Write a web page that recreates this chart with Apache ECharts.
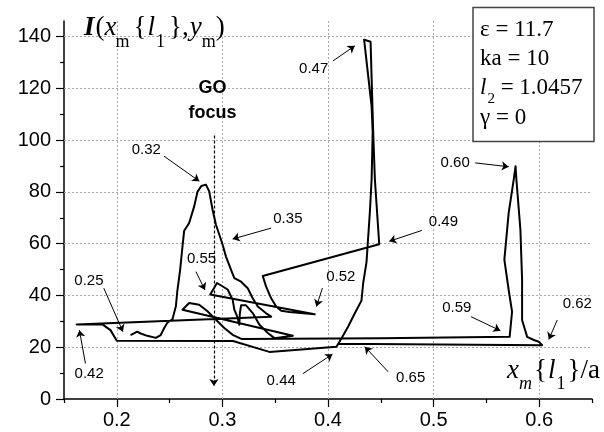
<!DOCTYPE html>
<html><head><meta charset="utf-8">
<script src="https://cdn.jsdelivr.net/npm/echarts@6/dist/echarts.min.js"></script>
<style>html,body{margin:0;padding:0;background:#fff}#c{width:604px;height:432px}</style>
</head><body><div id="c"></div>
<script>
// ---------- data ----------
const xMajorTicks = [0.2, 0.3, 0.4, 0.5, 0.6];
const xMinorTicks = [0.15, 0.25, 0.35, 0.45, 0.55, 0.65];
const yMajorTicks = [0, 20, 40, 60, 80, 100, 120, 140];
const yMinorTicks = [10, 30, 50, 70, 90, 110, 130];
const xRange = [0.15, 0.65];
const yRange = [0, 146];

// trajectory I(x_m) traced in order of the parameter (0.25 ... 0.65)
const path025to035 = [[0.213,24.7],[0.2194,26.0],[0.2226,25.3],[0.2289,24.4],[0.2369,23.6],[0.2416,24.7],[0.2448,27.3],[0.2479,29.5],[0.2527,30.8],[0.2559,35.7],[0.2574,42.0],[0.2600,50.0],[0.2622,58.9],[0.2638,65.0],[0.2685,68.0],[0.2733,74.4],[0.2764,80.0],[0.2800,82.3],[0.2844,82.8],[0.2875,80.2],[0.2907,73.1],[0.2939,67.3],[0.2987,61.5],[0.3002,59.6],[0.3034,55.0],[0.3082,49.9],[0.3113,46.7],[0.3177,45.3],[0.3240,42.8],[0.3287,38.9],[0.3335,35.7],[0.3414,33.1],[0.3462,31.8]];
const path035to042 = [[0.162,28.8]];
const path042to044 = [[0.186,28.9],[0.194,26.6],[0.200,22.5],[0.310,22.4],[0.3445,18.2],[0.408,20.2]];
const path044to049 = [[0.4127,23.4],[0.419,27.9],[0.4254,33.1],[0.4317,38.0],[0.4333,44.7],[0.4365,53.0],[0.4396,71.9],[0.4413,84.8],[0.4423,103],[0.4413,113],[0.4342,138.8],[0.4403,138.0],[0.4428,103],[0.4444,84.8],[0.4485,59.8]];
const path049to055 = [[0.3382,47.5],[0.3414,43.4],[0.3462,38.9],[0.3509,35.7],[0.3557,34.1],[0.3636,33.6],[0.3874,32.7],[0.2885,40.4],[0.2949,44.8],[0.3050,42.3],[0.3097,38.4],[0.3113,34.5],[0.3145,31.3],[0.3160,28.7],[0.3165,33.0],[0.3177,36.2],[0.3224,36.2],[0.3287,33.2],[0.3351,28.7],[0.3430,25.5],[0.3493,23.5],[0.3667,24.4],[0.2622,34.5],[0.2685,37.1],[0.2780,36.4],[0.2859,33.9],[0.2939,30.6],[0.3018,27.4],[0.3097,24.8],[0.3180,23.2]];
const path055to062 = [[0.4500,23.5],[0.5720,24.0],[0.5743,33.7],[0.5711,42.1],[0.5670,53.8],[0.5711,71.9],[0.5759,84.8],[0.5776,89.9],[0.5784,84.8],[0.5822,65.4],[0.5838,46.0],[0.5838,30.5],[0.5886,24.0],[0.5949,22.8],[0.5996,22.1],[0.6028,20.8]];
const path062to065 = [[0.4095,21.3]];

// parameter labels, their anchor points and arrows (data coordinates)
const paramLabels = ['0.25','0.32','0.35','0.42','0.44','0.47','0.49','0.52','0.55','0.59','0.60','0.62','0.65'];
const labelAt   = [[0.1736,45.7],[0.2279,96.4],[0.362,69.7],[0.1738,9.8],[0.3557,7.0],[0.3864,127.7],[0.5093,68.6],[0.4121,47.0],[0.2802,54.1],[0.522,35.3],[0.5204,91.2],[0.6361,36.7],[0.4783,8.3]];
const arrowFrom = [[0.1877,42.8],[0.2447,93.8],[0.3462,66.0],[0.1703,13.7],[0.3762,9.8],[0.4048,130.6],[0.4888,65.1],[0.3947,42.8],[0.2749,49.2],[0.5354,31.8],[0.5394,91.2],[0.6171,30.5],[0.457,10.5]];
const arrowTo   = [[0.2058,26.0],[0.2782,84.1],[0.3097,61.8],[0.1646,26.6],[0.4042,17.3],[0.4254,136.4],[0.458,60.9],[0.3890,35.7],[0.2835,42.1],[0.5632,26.4],[0.5711,89.7],[0.6091,23.0],[0.4349,20.2]];

const goFocusX = 0.292;
const goFocusY = [101.8, 5.0];
const goFocusText = ['GO', 'focus'];
const goFocusTextY = [120.2, 110.4];

// ---------- chart ----------
const curve = [].concat(path025to035, path035to042, path042to044, path044to049, path049to055, path055to062, path062to065);
const chart = echarts.init(document.getElementById('c'), null, {renderer: 'canvas'});
const SANS = '"Liberation Sans", Arial, sans-serif';
const SERIF = '"Liberation Serif", "Times New Roman", serif';
const black = '#000';

// dotted grid lines (through the axes' scales), then annotation arrows
const gridLine = (a, b) => [
  {coord: a, symbol: 'none', lineStyle: {type: [2, 2], color: '#a8a8a8', width: 1}},
  {coord: b, symbol: 'none'}
];
const markLines = xMajorTicks.map(v => gridLine([v, yRange[0]], [v, yRange[1]]))
  .concat(yMajorTicks.filter(v => v > 0).map(v => gridLine([xRange[0], v], [xRange[1], v])))
  .concat(paramLabels.map((_, i) => [{coord: arrowFrom[i], symbol: 'none'}, {coord: arrowTo[i], symbol: 'arrow'}]));
markLines.push([{coord: [goFocusX, goFocusY[0]], symbol: 'none', lineStyle: {type: [3, 2], width: 1.2}}, {coord: [goFocusX, goFocusY[1]], symbol: 'arrow'}]);

const labelData = paramLabels.map((t, i) => ({value: [labelAt[i][0], labelAt[i][1]], name: t}));
const goData = goFocusText.map((t, i) => ({value: [goFocusX - 0.0013, goFocusTextY[i]], name: t}));

const minorAxis = (r, ticks) => ({
  type: 'value', min: r[0], max: r[1],
  axisLine: {show: true, onZero: false, lineStyle: {color: black, width: 1.5}},
  axisTick: {show: true, inside: false, length: 4, customValues: ticks, lineStyle: {color: black, width: 1.2}},
  axisLabel: {show: false}, splitLine: {show: false}
});
const majorAxis = (r, ticks, fmt, margin) => ({
  type: 'value', min: r[0], max: r[1],
  axisLine: {show: false, onZero: false},
  axisTick: {show: true, inside: false, length: 8, customValues: ticks, lineStyle: {color: black, width: 1.2}},
  axisLabel: {show: true, customValues: ticks, formatter: fmt, color: black, fontFamily: SANS, fontSize: 20, margin},
  splitLine: {show: false}
});
const plainLabel = {textBorderWidth: 0, textBorderColor: 'transparent', textShadowBlur: 0};

const option = {
  animation: false,
  backgroundColor: '#fff',
  grid: {left: 64, right: 12, top: 21, bottom: 33, containLabel: false},
  xAxis: [
    Object.assign(minorAxis(xRange, xMinorTicks), {position: 'bottom'}),
    Object.assign(majorAxis(xRange, xMajorTicks, v => v.toFixed(1), 11), {position: 'bottom'})
  ],
  yAxis: [
    Object.assign(minorAxis(yRange, yMinorTicks), {position: 'left'}),
    Object.assign(majorAxis(yRange, yMajorTicks, v => String(Math.round(v)), 13), {position: 'left'})
  ],
  series: [
    {
      type: 'line', data: curve, xAxisIndex: 0, yAxisIndex: 0, z: 3,
      showSymbol: false, symbol: 'none', clip: false,
      lineStyle: {color: black, width: 2, join: 'round'},
      markLine: {
        silent: true, symbol: ['none', 'arrow'], symbolSize: 7, z: 1,
        label: {show: false},
        lineStyle: {color: black, width: 1, type: 'solid'},
        data: markLines
      }
    },
    {
      type: 'scatter', data: labelData, symbolSize: 0, xAxisIndex: 0, yAxisIndex: 0, z: 4, silent: true,
      itemStyle: {color: black, opacity: 1},
      label: Object.assign({show: true, position: 'inside', formatter: p => p.name, color: black, fontFamily: SANS, fontSize: 15}, plainLabel)
    },
    {
      type: 'scatter', data: goData, symbolSize: 0, xAxisIndex: 0, yAxisIndex: 0, z: 4, silent: true,
      itemStyle: {color: black, opacity: 1},
      label: Object.assign({show: true, position: 'inside', formatter: p => p.name, color: black, fontFamily: SANS, fontSize: 18, fontWeight: 'bold'}, plainLabel)
    }
  ]
};
chart.setOption(option);

// ---------- titles & parameter box (text runs with subscripts) ----------
const mctx = document.createElement('canvas').getContext('2d');
function run(pieces, x0, baseline) {
  const els = [];
  let x = x0;
  pieces.forEach(p => {
    const font = (p.i ? 'italic ' : '') + (p.b ? 'bold ' : '') + p.s + 'px ' + SERIF;
    mctx.font = font;
    const w = mctx.measureText(p.t).width;
    x += (p.g || 0);
    els.push({type: 'text', z: 20, x: x, y: baseline + (p.dy || 0) - 0.34 * p.s,
      style: {text: p.t, font: font, fill: black, align: 'left', verticalAlign: 'middle'}});
    x += w;
  });
  return els;
}
const M = 27, S = 18;
const yTitle = run([
  {t: 'I', i: 1, b: 1, s: M}, {t: '(', s: M, g: 1}, {t: 'x', i: 1, s: M},
  {t: 'm', s: S, dy: 11, g: -1}, {t: '{', s: M, g: 4}, {t: 'l', i: 1, s: M, g: 1},
  {t: '1', s: S, dy: 11, g: 1}, {t: '},', s: M, g: 4}, {t: 'y', i: 1, s: M, g: 1},
  {t: 'm', s: S, dy: 11}, {t: ')', s: M}
], 84, 37);
const xTitle = run([
  {t: 'x', i: 1, s: M}, {t: 'm', i: 1, s: S, dy: 10}, {t: '{', s: M, g: 2},
  {t: 'l', i: 1, s: M, g: 1}, {t: '1', s: S, dy: 10, g: 1}, {t: '}/a', s: M, g: 2}
], 507, 380);
const B = 23;
const boxText = [].concat(
  run([{t: '\u03b5 = 11.7', s: B}], 480, 38),
  run([{t: 'ka = 10', s: B}], 480, 67),
  run([{t: 'l', i: 1, s: B}, {t: '2', s: 15, dy: 8, g: 1}, {t: ' = 1.0457', s: B}], 480, 96),
  run([{t: '\u03b3 = 0', s: B}], 480, 126)
);
chart.setOption({
  graphic: [
    {type: 'rect', z: 10, shape: {x: 473, y: 7.5, width: 121, height: 134}, style: {fill: '#fff', stroke: '#444', lineWidth: 1.5}}
  ].concat(boxText, yTitle, xTitle)
});
</script></body></html>
